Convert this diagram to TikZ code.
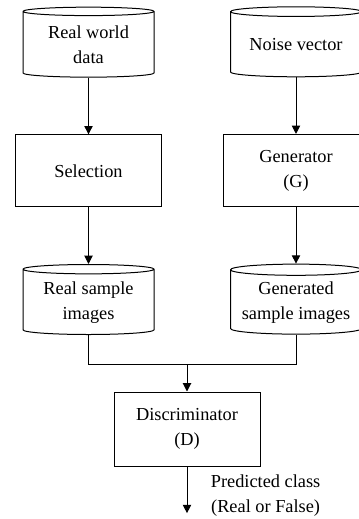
\documentclass[tikz,border=0pt]{standalone}
\usepackage{fontspec}
\setmainfont{Liberation Serif}
\usetikzlibrary{shapes.geometric,arrows.meta,positioning}

\begin{document}
\begin{tikzpicture}[
    x=0.6pt, y=-0.6pt,
    font=\fontsize{11}{15}\selectfont,
    node distance=34pt,
    db/.style={cylinder, shape border rotate=90, draw, line width=0.6pt, aspect=0.1,
               minimum width=78.6pt, minimum height=42pt, align=center, inner sep=1pt},
    proc/.style={rectangle, draw, line width=0.6pt, minimum width=87.6pt,
                 minimum height=43.2pt, align=center},
    arr/.style={-{Triangle[length=5pt,width=5pt]}, line width=0.6pt},
  ]
  \useasboundingbox (0,0) rectangle (358,519);

  %% -- Left column: real data --------------------------------
  \node[db]   (real)  at (88.5,45)  {Real world\\data};
  \node[proc] (sel)   [below=of real] {Selection};
  \node[db]   (rsamp) [below=of sel]  {Real sample\\images};

  %% -- Right column: generated data -------------------------
  \node[db]   (noise) at (296,45)      {Noise vector};
  \node[proc] (gen)   [below=of noise] {Generator\\(G)};
  \node[db]   (gsamp) [below=of gen]   {Generated\\sample images};

  %% -- Discriminator -----------------------------------------
  \node[proc, minimum height=44.4pt] (disc) at (187,429) {Discriminator\\(D)};
  \coordinate[above=16.2pt of disc] (join);
  \coordinate[below=28pt of disc] (out);
  \node[anchor=west, align=center] (pred) at (205,496) {Predicted class\\(Real or False)};

  %% -- Arrows -------------------------------------------------
  \draw[arr] (real) -- (sel);
  \draw[arr] (sel) -- (rsamp);
  \draw[arr] (noise) -- (gen);
  \draw[arr] (gen) -- (gsamp);
  \draw[line width=0.6pt] (rsamp.south) |- (join) -| (gsamp.south);
  \draw[arr] (join) -- (disc);
  \draw[arr] (disc) -- (out);

\end{tikzpicture}
\end{document}
